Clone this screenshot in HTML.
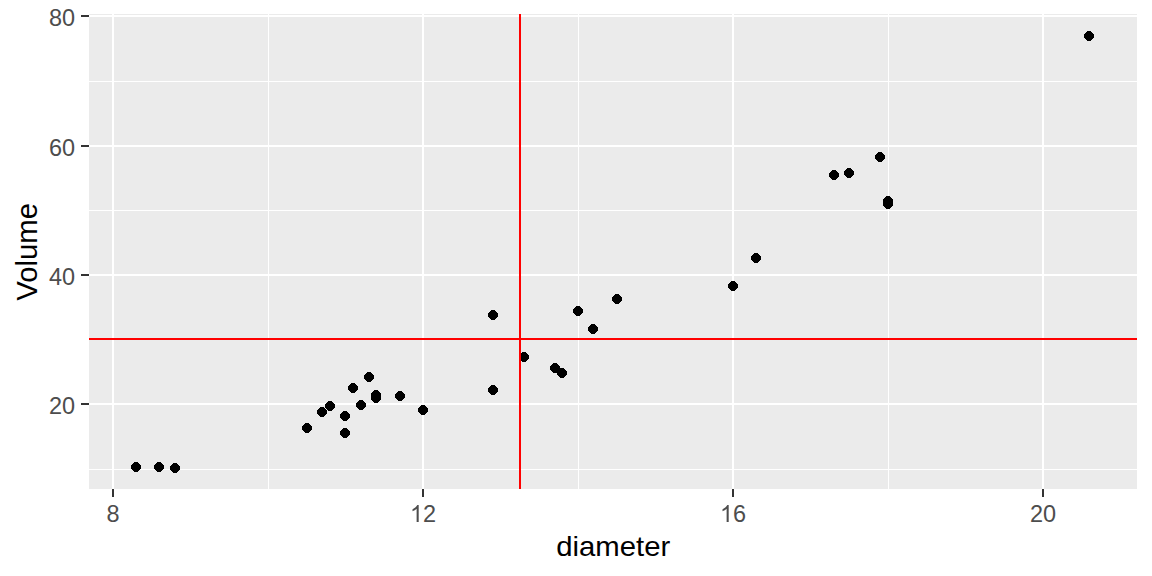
<!DOCTYPE html><html><head><meta charset="utf-8"><style>html,body{margin:0;padding:0;background:#fff;}svg{display:block;}text{font-family:"Liberation Sans",sans-serif;}</style></head><body>
<svg width="1152" height="576" viewBox="0 0 1152 576">
<rect x="89" y="14" width="1048" height="475" fill="#EBEBEB"/>
<rect x="89" y="81" width="1048" height="1" fill="#fff"/>
<rect x="89" y="210" width="1048" height="1" fill="#fff"/>
<rect x="89" y="339" width="1048" height="1" fill="#fff"/>
<rect x="89" y="469" width="1048" height="1" fill="#fff"/>
<rect x="268" y="14" width="1" height="475" fill="#fff"/>
<rect x="578" y="14" width="1" height="475" fill="#fff"/>
<rect x="888" y="14" width="1" height="475" fill="#fff"/>
<rect x="89" y="15" width="1048" height="2" fill="#fff"/>
<rect x="89" y="145" width="1048" height="2" fill="#fff"/>
<rect x="89" y="274" width="1048" height="2" fill="#fff"/>
<rect x="89" y="403" width="1048" height="2" fill="#fff"/>
<rect x="112" y="14" width="2" height="475" fill="#fff"/>
<rect x="422" y="14" width="2" height="475" fill="#fff"/>
<rect x="732" y="14" width="2" height="475" fill="#fff"/>
<rect x="1042" y="14" width="2" height="475" fill="#fff"/>
<path d="M134 462h4v1h1v1h1v1h1v4h-1v1h-1v1h-1v1h-4v-1h-1v-1h-1v-1h-1v-4h1v-1h1v-1h1z"/>
<path d="M157 462h4v1h1v1h1v1h1v4h-1v1h-1v1h-1v1h-4v-1h-1v-1h-1v-1h-1v-4h1v-1h1v-1h1z"/>
<path d="M173 463h4v1h1v1h1v1h1v4h-1v1h-1v1h-1v1h-4v-1h-1v-1h-1v-1h-1v-4h1v-1h1v-1h1z"/>
<path d="M305 423h4v1h1v1h1v1h1v4h-1v1h-1v1h-1v1h-4v-1h-1v-1h-1v-1h-1v-4h1v-1h1v-1h1z"/>
<path d="M320 407h4v1h1v1h1v1h1v4h-1v1h-1v1h-1v1h-4v-1h-1v-1h-1v-1h-1v-4h1v-1h1v-1h1z"/>
<path d="M328 401h4v1h1v1h1v1h1v4h-1v1h-1v1h-1v1h-4v-1h-1v-1h-1v-1h-1v-4h1v-1h1v-1h1z"/>
<path d="M343 428h4v1h1v1h1v1h1v4h-1v1h-1v1h-1v1h-4v-1h-1v-1h-1v-1h-1v-4h1v-1h1v-1h1z"/>
<path d="M343 411h4v1h1v1h1v1h1v4h-1v1h-1v1h-1v1h-4v-1h-1v-1h-1v-1h-1v-4h1v-1h1v-1h1z"/>
<path d="M351 383h4v1h1v1h1v1h1v4h-1v1h-1v1h-1v1h-4v-1h-1v-1h-1v-1h-1v-4h1v-1h1v-1h1z"/>
<path d="M359 400h4v1h1v1h1v1h1v4h-1v1h-1v1h-1v1h-4v-1h-1v-1h-1v-1h-1v-4h1v-1h1v-1h1z"/>
<path d="M367 372h4v1h1v1h1v1h1v4h-1v1h-1v1h-1v1h-4v-1h-1v-1h-1v-1h-1v-4h1v-1h1v-1h1z"/>
<path d="M374 393h4v1h1v1h1v1h1v4h-1v1h-1v1h-1v1h-4v-1h-1v-1h-1v-1h-1v-4h1v-1h1v-1h1z"/>
<path d="M374 390h4v1h1v1h1v1h1v4h-1v1h-1v1h-1v1h-4v-1h-1v-1h-1v-1h-1v-4h1v-1h1v-1h1z"/>
<path d="M398 391h4v1h1v1h1v1h1v4h-1v1h-1v1h-1v1h-4v-1h-1v-1h-1v-1h-1v-4h1v-1h1v-1h1z"/>
<path d="M421 405h4v1h1v1h1v1h1v4h-1v1h-1v1h-1v1h-4v-1h-1v-1h-1v-1h-1v-4h1v-1h1v-1h1z"/>
<path d="M491 385h4v1h1v1h1v1h1v4h-1v1h-1v1h-1v1h-4v-1h-1v-1h-1v-1h-1v-4h1v-1h1v-1h1z"/>
<path d="M491 310h4v1h1v1h1v1h1v4h-1v1h-1v1h-1v1h-4v-1h-1v-1h-1v-1h-1v-4h1v-1h1v-1h1z"/>
<path d="M522 352h4v1h1v1h1v1h1v4h-1v1h-1v1h-1v1h-4v-1h-1v-1h-1v-1h-1v-4h1v-1h1v-1h1z"/>
<path d="M553 363h4v1h1v1h1v1h1v4h-1v1h-1v1h-1v1h-4v-1h-1v-1h-1v-1h-1v-4h1v-1h1v-1h1z"/>
<path d="M560 368h4v1h1v1h1v1h1v4h-1v1h-1v1h-1v1h-4v-1h-1v-1h-1v-1h-1v-4h1v-1h1v-1h1z"/>
<path d="M576 306h4v1h1v1h1v1h1v4h-1v1h-1v1h-1v1h-4v-1h-1v-1h-1v-1h-1v-4h1v-1h1v-1h1z"/>
<path d="M591 324h4v1h1v1h1v1h1v4h-1v1h-1v1h-1v1h-4v-1h-1v-1h-1v-1h-1v-4h1v-1h1v-1h1z"/>
<path d="M615 294h4v1h1v1h1v1h1v4h-1v1h-1v1h-1v1h-4v-1h-1v-1h-1v-1h-1v-4h1v-1h1v-1h1z"/>
<path d="M731 281h4v1h1v1h1v1h1v4h-1v1h-1v1h-1v1h-4v-1h-1v-1h-1v-1h-1v-4h1v-1h1v-1h1z"/>
<path d="M754 253h4v1h1v1h1v1h1v4h-1v1h-1v1h-1v1h-4v-1h-1v-1h-1v-1h-1v-4h1v-1h1v-1h1z"/>
<path d="M832 170h4v1h1v1h1v1h1v4h-1v1h-1v1h-1v1h-4v-1h-1v-1h-1v-1h-1v-4h1v-1h1v-1h1z"/>
<path d="M847 168h4v1h1v1h1v1h1v4h-1v1h-1v1h-1v1h-4v-1h-1v-1h-1v-1h-1v-4h1v-1h1v-1h1z"/>
<path d="M878 152h4v1h1v1h1v1h1v4h-1v1h-1v1h-1v1h-4v-1h-1v-1h-1v-1h-1v-4h1v-1h1v-1h1z"/>
<path d="M886 196h4v1h1v1h1v1h1v4h-1v1h-1v1h-1v1h-4v-1h-1v-1h-1v-1h-1v-4h1v-1h1v-1h1z"/>
<path d="M886 199h4v1h1v1h1v1h1v4h-1v1h-1v1h-1v1h-4v-1h-1v-1h-1v-1h-1v-4h1v-1h1v-1h1z"/>
<path d="M1087 31h4v1h1v1h1v1h1v4h-1v1h-1v1h-1v1h-4v-1h-1v-1h-1v-1h-1v-4h1v-1h1v-1h1z"/>
<rect x="519" y="14" width="2" height="475" fill="#FF0000"/>
<rect x="89" y="338" width="1048" height="2" fill="#FF0000"/>
<rect x="81" y="15" width="8" height="2" fill="#333333"/>
<rect x="81" y="145" width="8" height="2" fill="#333333"/>
<rect x="81" y="274" width="8" height="2" fill="#333333"/>
<rect x="81" y="403" width="8" height="2" fill="#333333"/>
<rect x="112" y="489" width="2" height="8" fill="#333333"/>
<rect x="422" y="489" width="2" height="8" fill="#333333"/>
<rect x="732" y="489" width="2" height="8" fill="#333333"/>
<rect x="1042" y="489" width="2" height="8" fill="#333333"/>
<text x="75.05" y="25.90" font-size="23.47" fill="#4D4D4D" text-anchor="end">80</text>
<text x="75.05" y="155.90" font-size="23.47" fill="#4D4D4D" text-anchor="end">60</text>
<text x="75.05" y="284.90" font-size="23.47" fill="#4D4D4D" text-anchor="end">40</text>
<text x="75.05" y="413.90" font-size="23.47" fill="#4D4D4D" text-anchor="end">20</text>
<text x="106.474" y="522" font-size="23.47" fill="#4D4D4D">8</text>
<path transform="translate(409.947,522) scale(0.011460,-0.011460)" d="M763 0L583 0L583 1150C540 1109 483 1068 413 1027C343 986 280 955 224 934L224 1108C325 1155 413 1212 488 1279C563 1346 616 1411 647 1474L763 1474Z" fill="#4D4D4D"/>
<text x="423.000" y="522" font-size="23.47" fill="#4D4D4D">2</text>
<path transform="translate(719.947,522) scale(0.011460,-0.011460)" d="M763 0L583 0L583 1150C540 1109 483 1068 413 1027C343 986 280 955 224 934L224 1108C325 1155 413 1212 488 1279C563 1346 616 1411 647 1474L763 1474Z" fill="#4D4D4D"/>
<text x="733.000" y="522" font-size="23.47" fill="#4D4D4D">6</text>
<text x="1029.947" y="522" font-size="23.47" fill="#4D4D4D">2</text>
<text x="1043.000" y="522" font-size="23.47" fill="#4D4D4D">0</text>
<text transform="translate(613.2,556.3) scale(1,0.97)" x="0" y="0" font-size="29.33" fill="#000" text-anchor="middle">diameter</text>
<text transform="translate(37.1,251.8) rotate(-90) scale(1,0.99)" x="0" y="0" font-size="29.33" fill="#000" text-anchor="middle">Volume</text>
</svg></body></html>
